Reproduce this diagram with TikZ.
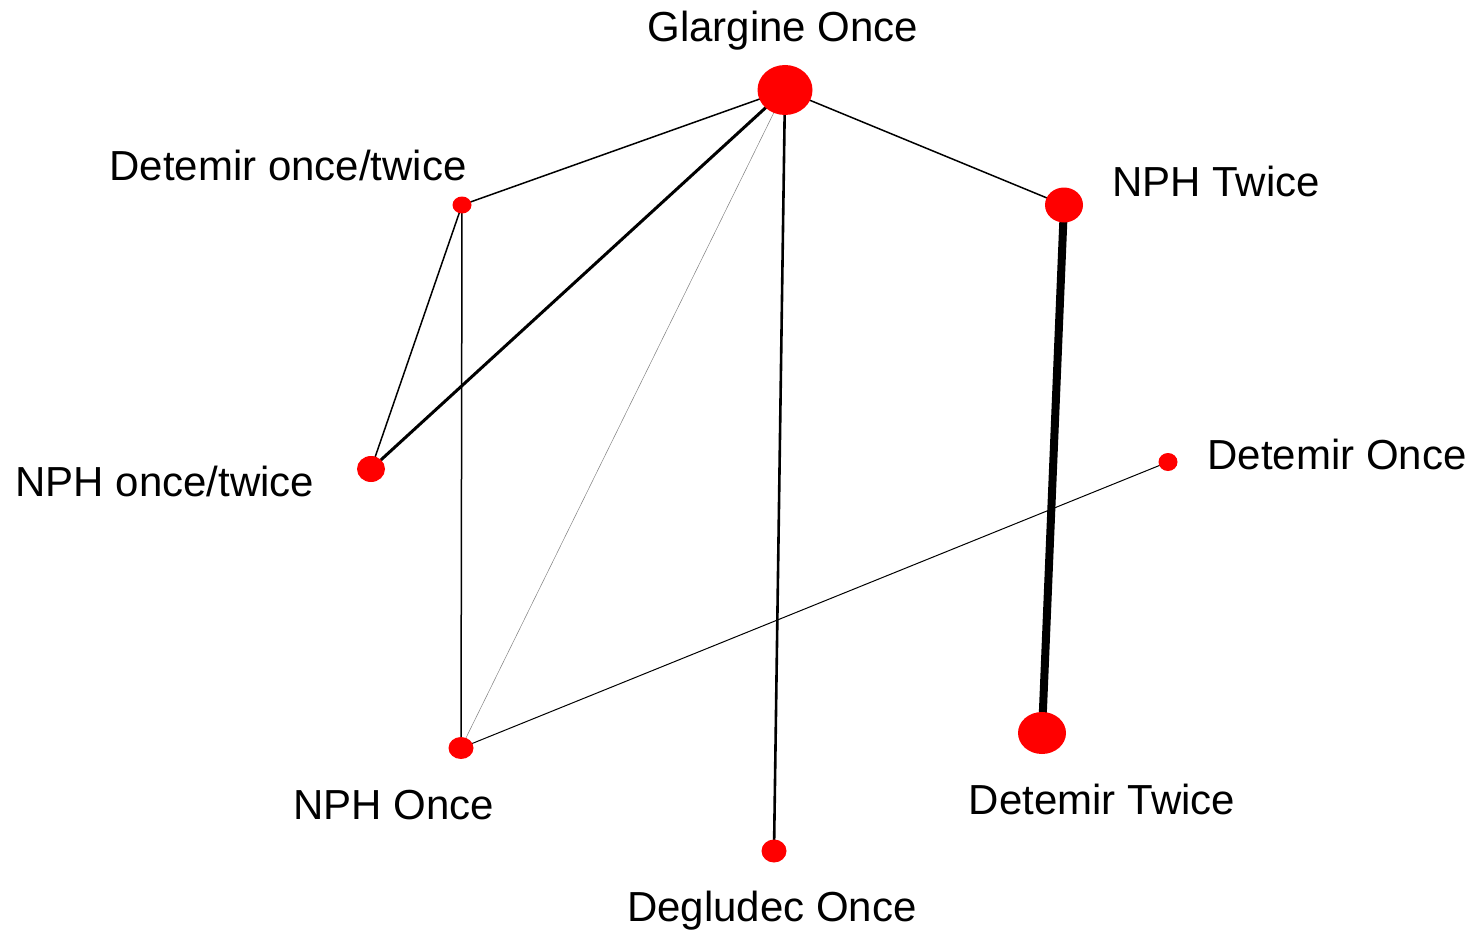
\documentclass[tikz,border=0pt]{standalone}
\usepackage{fontspec}
\setmainfont{Liberation Sans}
\usetikzlibrary{shapes.geometric}
\pgfdeclarelayer{bg}
\pgfsetlayers{bg,main}
\begin{document}
\begin{tikzpicture}[x=0.5pt,y=-0.5pt,
  vert/.style={ellipse,fill=red,draw=none,inner sep=0pt},
  lab/.style={font=\fontsize{21}{25}\selectfont,inner sep=0pt,anchor=center},
  e/.style={draw=black,line width=#1}]
\useasboundingbox (0,0) rectangle (1473,931);
\node[vert,minimum width=27.5pt,minimum height=25pt] (glo) at (785,90) {};
\node[vert,minimum width=19pt,minimum height=17.5pt] (npht) at (1064,205) {};
\node[vert,minimum width=24pt,minimum height=21pt] (dett) at (1042,733) {};
\node[vert,minimum width=9.5pt,minimum height=9pt] (deto) at (1168,462) {};
\node[vert,minimum width=12.5pt,minimum height=11.5pt] (deg) at (774,851) {};
\node[vert,minimum width=12.5pt,minimum height=11pt] (npho) at (461,748) {};
\node[vert,minimum width=14pt,minimum height=13pt] (nphot) at (371,469) {};
\node[vert,minimum width=9.5pt,minimum height=8.5pt] (detot) at (462,205) {};
\begin{pgfonlayer}{bg}
\draw[e=0.75pt] (glo.center) -- (detot.center);
\draw[e=1.5pt] (glo.center) -- (nphot.center);
\draw[e=0.25pt,draw=black!50] (glo.center) -- (npho.center);
\draw[e=1.3pt] (glo.center) -- (deg.center);
\draw[e=0.75pt] (glo.center) -- (npht.center);
\draw[e=4pt] (npht.center) -- (dett.center);
\draw[e=0.75pt] (detot.center) -- (nphot.center);
\draw[e=0.75pt] (detot.center) -- (npho.center);
\draw[e=0.5pt] (npho.center) -- (deto.center);
\end{pgfonlayer}
\node[lab] (lglo) at (783,31) {Glargine Once};
\node[lab] (ldetot) at (288,165) {Detemir once/twice};
\node[lab] (lnpht) at (1216,181) {NPH Twice};
\node[lab] (ldeto) at (1337,454) {Detemir Once};
\node[lab] (lnphot) at (165,481) {NPH once/twice};
\node[lab] (lnpho) at (394,805) {NPH Once};
\node[lab] (ldett) at (1102,799) {Detemir Twice};
\node[lab] (ldeg) at (772,911) {Degludec Once};
\end{tikzpicture}
\end{document}
